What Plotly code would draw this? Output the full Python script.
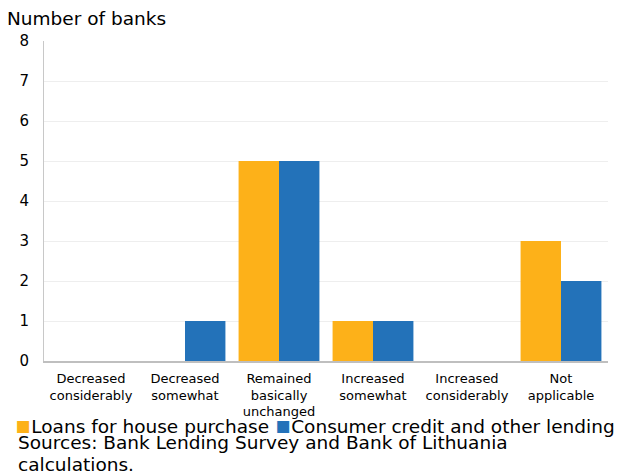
import plotly.graph_objects as go

categories = [
    "Decreased<br>considerably",
    "Decreased<br>somewhat",
    "Remained<br>basically<br>unchanged",
    "Increased<br>somewhat",
    "Increased<br>considerably",
    "Not<br>applicable",
]
house_loans = [0, 0, 5, 1, 0, 3]
consumer_credit = [0, 1, 5, 1, 0, 2]

series = [
    ("Loans for house purchase", house_loans, "#FDB119"),
    ("Consumer credit and other lending", consumer_credit, "#2372B9"),
]

source_lines = [
    "Sources: Bank Lending Survey and Bank of Lithuania",
    "calculations.",
]

FONT = "DejaVu Sans, Verdana, sans-serif"

fig = go.Figure()
for name, values, color in series:
    fig.add_trace(go.Bar(
        x=categories, y=values, name=name,
        marker=dict(color=color, line=dict(width=0)),
        showlegend=False,
    ))

# Legend drawn as a single text line with coloured squares
legend_text = " ".join(
    f"<span style='color:{color};font-size:24px'>▪</span>{name}"
    for name, _, color in series
)

annotations = [
    dict(text="Number of banks", x=0, y=1, xref="paper", yref="paper",
         xshift=-39, yshift=10, xanchor="left", yanchor="bottom",
         showarrow=False, font=dict(size=18.5)),
    dict(text=legend_text, x=0, y=0, xref="paper", yref="paper",
         xshift=-31, yshift=-64, xanchor="left", yanchor="middle",
         showarrow=False, font=dict(size=18.5)),
]
for i, line in enumerate(source_lines):
    annotations.append(dict(
        text=line, x=0, y=0, xref="paper", yref="paper",
        xshift=-28, yshift=-81 - 22 * i, xanchor="left", yanchor="middle",
        align="left", showarrow=False, font=dict(size=18.5),
    ))

fig.update_layout(
    width=621, height=475,
    margin=dict(l=44, r=13, t=41, b=114),
    paper_bgcolor="white", plot_bgcolor="white",
    barmode="group", bargap=0.14, bargroupgap=0,
    font=dict(family=FONT, color="#000000"),
    xaxis=dict(
        showgrid=False, showline=True, linecolor="#BFBFBF", linewidth=2,
        ticks="", tickfont=dict(size=13), tickangle=0, automargin=False,
        ticklabelstandoff=4,
    ),
    yaxis=dict(
        range=[0, 8], dtick=1, showgrid=True, gridcolor="#EEEEEE",
        showline=True, linecolor="#C8C8C8", linewidth=1,
        zeroline=False, ticks="", tickfont=dict(size=15),
        ticklabelstandoff=11, automargin=False,
    ),
    annotations=annotations,
)

fig.write_html("out.html")
